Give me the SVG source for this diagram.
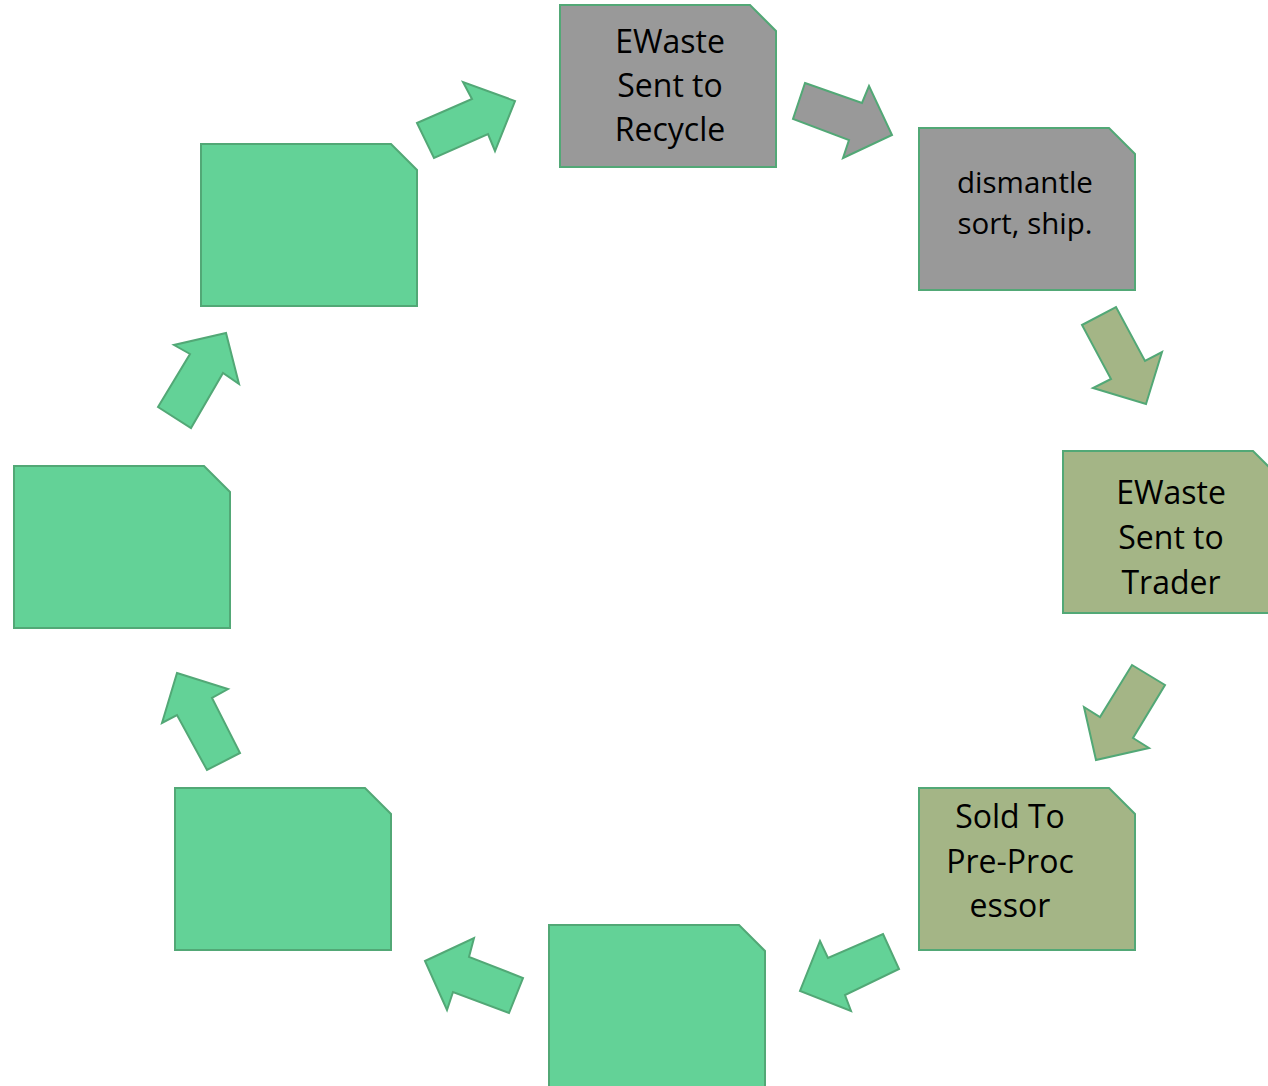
<svg xmlns="http://www.w3.org/2000/svg" width="1268" height="1086" viewBox="0 0 1268 1086">
<style>
.n{stroke:#52a876;stroke-width:2}
.a{stroke:#52a876;stroke-width:2;stroke-linejoin:miter}
.gray{fill:#999999}
.olive{fill:#a4b586}
.green{fill:#63d297}
text{font-family:"Open Sans","Noto Sans",sans-serif;fill:#000;text-anchor:middle}
.t32{font-size:32px}
.t30{font-size:29.5px}
</style>
<rect width="1268" height="1086" fill="#ffffff"/>
<g id="connectors">
<polygon class="a gray" points="805,83 862,103 869,86 892,135 843,158 849,140 793,119"/>
<polygon class="a olive" points="1082,325 1116,307 1145,361 1162,352 1146,404 1093,388 1111,379"/>
<polygon class="a olive" points="1132,665 1165,685 1133,738 1149,748 1096,760 1084,707 1100,717"/>
<polygon class="a green" points="883,934 899,969 845,995 851,1011 800,991 820,941 828,958"/>
<polygon class="a green" points="425,961 474,938 469,957 523,978 509,1013 453,992 447,1010"/>
<polygon class="a green" points="177,673 228,689 212,698 240,753 207,770 177,715 162,723"/>
<polygon class="a green" points="158,407 190,354 174,345 226,333 239,384 223,373 191,428"/>
<polygon class="a green" points="417,123 472,99 463,82 515,101 495,151 488,134 434,158"/>
</g>
<g id="node-recycle">
<polygon class="n gray" points="560,5 750,5 776,31 776,167 560,167"/>
<text class="t32" x="670" y="53">EWaste</text>
<text class="t32" x="670" y="97">Sent to</text>
<text class="t32" x="670" y="141">Recycle</text>
</g>
<g id="node-dismantle">
<polygon class="n gray" points="919,128 1109,128 1135,154 1135,290 919,290"/>
<text class="t30" x="1025" y="193">dismantle</text>
<text class="t30" x="1025" y="234">sort, ship.</text>
</g>
<g id="node-trader">
<polygon class="n olive" points="1063,451 1253,451 1279,477 1279,613 1063,613"/>
<text class="t32" x="1171" y="504">EWaste</text>
<text class="t32" x="1171" y="549">Sent to</text>
<text class="t32" x="1171" y="594">Trader</text>
</g>
<g id="node-preprocessor">
<polygon class="n olive" points="919,788 1109,788 1135,814 1135,950 919,950"/>
<text class="t32" x="1010" y="828">Sold To</text>
<text class="t32" x="1010" y="873">Pre-Proc</text>
<text class="t32" x="1010" y="917">essor</text>
</g>
<g id="node-bottom">
<polygon class="n green" points="549,925 739,925 765,951 765,1087 549,1087"/>
</g>
<g id="node-lower-left">
<polygon class="n green" points="175,788 365,788 391,814 391,950 175,950"/>
</g>
<g id="node-left">
<polygon class="n green" points="14,466 204,466 230,492 230,628 14,628"/>
</g>
<g id="node-upper-left">
<polygon class="n green" points="201,144 391,144 417,170 417,306 201,306"/>
</g>
</svg>
